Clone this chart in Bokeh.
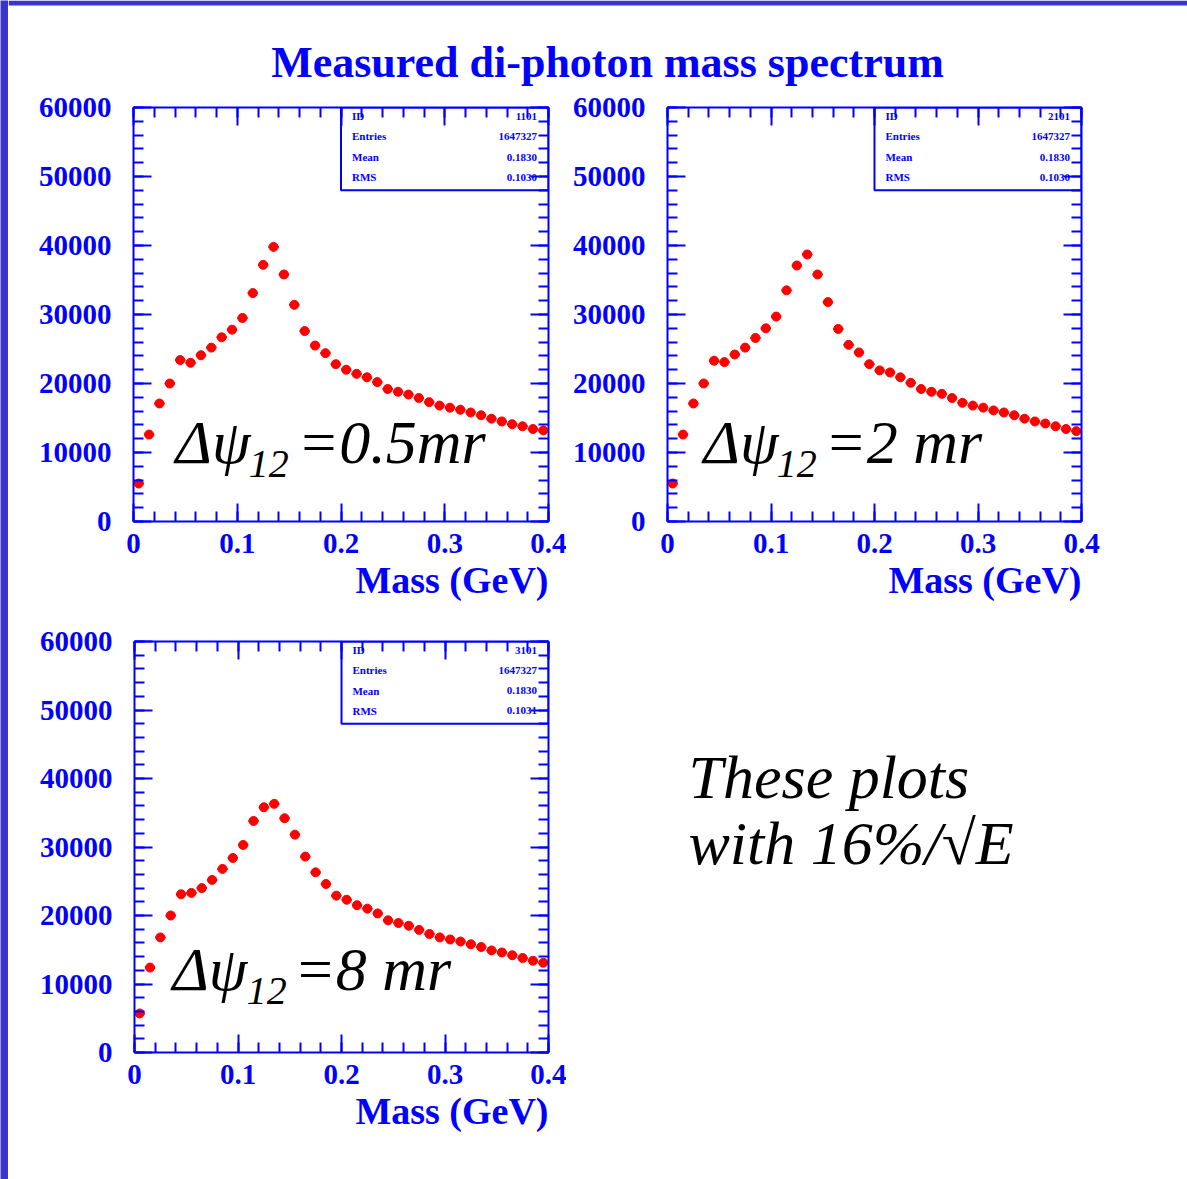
from bokeh.plotting import figure
from bokeh.models import Range1d, LinearAxis, SingleIntervalTicker, BoxAnnotation, Title
from bokeh.layouts import row, column
from bokeh.embed import file_html
from bokeh.resources import INLINE
from bokeh.core.properties import value

# ---------------- data ----------------
mass = [0.005, 0.015, 0.025, 0.035, 0.045, 0.055, 0.065, 0.075, 0.085, 0.095,
        0.105, 0.115, 0.125, 0.135, 0.145, 0.155, 0.165, 0.175, 0.185, 0.195,
        0.205, 0.215, 0.225, 0.235, 0.245, 0.255, 0.265, 0.275, 0.285, 0.295,
        0.305, 0.315, 0.325, 0.335, 0.345, 0.355, 0.365, 0.375, 0.385, 0.395]

counts_05mr = [5500, 12600, 17100, 20000, 23400, 23000, 24100, 25200, 26700, 27800,
               29500, 33100, 37200, 39800, 35800, 31400, 27600, 25500, 24400, 22800,
               22000, 21400, 20900, 20200, 19200, 18800, 18400, 17900, 17300, 16800,
               16500, 16200, 15800, 15400, 14900, 14500, 14100, 13800, 13400, 13200]

counts_2mr = [5500, 12600, 17100, 20000, 23300, 23100, 24200, 25200, 26600, 28000,
              29700, 33500, 37100, 38700, 35800, 31800, 27900, 25600, 24500, 22800,
              21900, 21600, 20900, 20100, 19200, 18800, 18500, 17900, 17200, 16800,
              16500, 16100, 15800, 15400, 14900, 14500, 14200, 13800, 13400, 13100]

counts_8mr = [5700, 12400, 16800, 20000, 23100, 23300, 24000, 25200, 26800, 28400,
              30300, 33800, 35800, 36300, 34200, 31800, 28600, 26300, 24600, 22900,
              22300, 21500, 21000, 20300, 19300, 18900, 18500, 17900, 17300, 16800,
              16500, 16200, 15800, 15400, 14900, 14600, 14200, 13800, 13400, 13100]

stat_names = ["ID", "Entries", "Mean", "RMS"]
stats_05mr = ["1101", "1647327", "0.1830", "0.1030"]
stats_2mr = ["2101", "1647327", "0.1830", "0.1030"]
stats_8mr = ["3101", "1647327", "0.1830", "0.1031"]

tag_05mr = ("\u0394\u03c8", "12", "=0.5mr")
tag_2mr = ("\u0394\u03c8", "12", "=2 mr")
tag_8mr = ("\u0394\u03c8", "12", "=8 mr")

title_text = "Measured di-photon mass spectrum"
note_lines = ["These plots", "with 16%/\u221aE"]
x_label = "Mass (GeV)"

# ---------------- style ----------------
BLUE = "#0000ff"
RED = "#ff0000"
STRIPE = "#3a35cc"
SERIF = "Liberation Serif"


def style_axis(ax, ticker, labels=True):
    ax.ticker = ticker
    ax.axis_line_color = BLUE
    ax.axis_line_width = 2
    ax.major_tick_line_color = BLUE
    ax.major_tick_line_width = 2
    ax.minor_tick_line_color = BLUE
    ax.minor_tick_line_width = 2
    ax.major_tick_in = 18
    ax.major_tick_out = 0
    ax.minor_tick_in = 10
    ax.minor_tick_out = 0
    if labels:
        ax.major_label_text_color = BLUE
        ax.major_label_text_font = SERIF
        ax.major_label_text_font_style = "bold"
        ax.major_label_text_font_size = "29px"
    else:
        ax.major_label_text_font_size = "1px"
        ax.major_label_text_alpha = 0.0
        ax.major_label_standoff = 0


def make_panel(width, height, mbl, mbr, mbt, mbb, counts, stats, tag, tag_pos):
    p = figure(width=width, height=height, output_backend="svg", toolbar_location=None,
               x_range=Range1d(0, 0.4), y_range=Range1d(0, 60000),
               min_border_left=mbl, min_border_right=mbr,
               min_border_top=mbt, min_border_bottom=mbb,
               outline_line_color=None, background_fill_color="white",
               border_fill_color="white")
    p.xgrid.grid_line_color = None
    p.ygrid.grid_line_color = None

    style_axis(p.xaxis[0], SingleIntervalTicker(interval=0.1, num_minor_ticks=5))
    p.xaxis[0].major_label_standoff = 12
    style_axis(p.yaxis[0], SingleIntervalTicker(interval=10000, num_minor_ticks=5))
    p.yaxis[0].major_label_standoff = 22

    # x axis title, right-aligned under the frame
    p.add_layout(Title(text=x_label, align="right", text_color=BLUE, text_font=SERIF,
                       text_font_style="bold", text_font_size="38px",
                       standoff=2, offset=0), "below")

    top = LinearAxis()
    style_axis(top, SingleIntervalTicker(interval=0.1, num_minor_ticks=5), labels=False)
    p.add_layout(top, "above")
    right = LinearAxis()
    style_axis(right, SingleIntervalTicker(interval=10000, num_minor_ticks=5), labels=False)
    p.add_layout(right, "right")

    # data points with horizontal bin-width bars
    half = 0.005
    p.segment(x0=[m - half for m in mass], x1=[m + half for m in mass],
              y0=counts, y1=counts, line_color=RED, line_width=2)
    p.scatter(x=mass, y=counts, size=9, fill_color=RED, line_color=RED)

    # statistics box
    p.quad(left=[0.2], right=[0.4], bottom=[48000], top=[60000],
           fill_color="white", line_color=BLUE, line_width=2)
    rows_y = [58700, 55800, 52800, 49900]
    p.text(x=[0.2106] * 4, y=rows_y, text=stat_names, text_font=value(SERIF),
           text_font_style="bold", text_font_size="11px", text_color=BLUE,
           text_baseline="middle", text_align="left")
    p.text(x=[0.389] * 4, y=rows_y, text=stats, text_font=value(SERIF),
           text_font_style="bold", text_font_size="11px", text_color=BLUE,
           text_baseline="middle", text_align="right")

    # annotation  Δψ_12 = ...
    sizes = ["62px", "40px", "62px"]
    for (tx, ty), txt, sz in zip(tag_pos, tag, sizes):
        p.text(x=[tx], y=[ty], text=[txt], text_font=value(SERIF), text_font_style="italic",
               text_font_size=sz, text_color="black", text_baseline="alphabetic",
               text_align="left")
    return p


# title strip (page coordinates: x 8..1187, y 0..88), with the slide's top bar
title_fig = figure(width=1179, height=88, output_backend="svg", toolbar_location=None,
                   x_range=Range1d(8, 1187), y_range=Range1d(88, 0),
                   x_axis_location=None, y_axis_location=None, min_border=0,
                   outline_line_color=None, background_fill_color="white",
                   border_fill_color="white")
title_fig.grid.visible = False
title_fig.add_layout(BoxAnnotation(top=0, bottom=5, fill_color=STRIPE, fill_alpha=1.0,
                                   line_color=None))
title_fig.text(x=[607], y=[62], text=[title_text], text_font=value(SERIF),
               text_font_style="bold", text_font_size="44px", text_color=BLUE,
               text_align="center", text_baseline="alphabetic")

# left slide bar
left_stripe = figure(width=8, height=1179, output_backend="svg", toolbar_location=None,
                     x_range=Range1d(0, 8), y_range=Range1d(0, 1179),
                     x_axis_location=None, y_axis_location=None, min_border=0,
                     outline_line_color=None, background_fill_color=STRIPE,
                     border_fill_color=STRIPE)
left_stripe.grid.visible = False

p1 = make_panel(558, 527, 125, 18, 19, 94, counts_05mr, stats_05mr, tag_05mr,
                [(0.0405, 11590), (0.1110, 8280), (0.158, 11590)])
p2 = make_panel(621, 527, 101, 106, 19, 94, counts_2mr, stats_2mr, tag_2mr,
                [(0.0348, 11590), (0.1055, 8280), (0.1520, 11590)])
p3 = make_panel(558, 564, 126, 18, 26, 127, counts_8mr, stats_8mr, tag_8mr,
                [(0.0367, 12120), (0.1085, 9050), (0.1540, 12120)])

# note area, same frame as p3 vertically; data units equal page pixels
note = figure(width=621, height=564, output_backend="svg", toolbar_location=None,
              x_range=Range1d(566, 1187), y_range=Range1d(1052, 641),
              x_axis_location=None, y_axis_location=None,
              min_border_left=0, min_border_right=0, min_border_top=26, min_border_bottom=127,
              outline_line_color=None, background_fill_color="white",
              border_fill_color="white")
note.grid.visible = False
note.text(x=[688, 688], y=[776, 842], text=note_lines, text_font=value(SERIF),
          text_font_style="italic", text_font_size="62px", text_color="black",
          text_baseline="alphabetic", text_align="left")

content = column(title_fig, row(p1, p2), row(p3, note))
root = row(left_stripe, content,
           styles={"position": "absolute", "left": "0px", "top": "0px"})

open("out.html", "w").write(file_html(root, INLINE))
